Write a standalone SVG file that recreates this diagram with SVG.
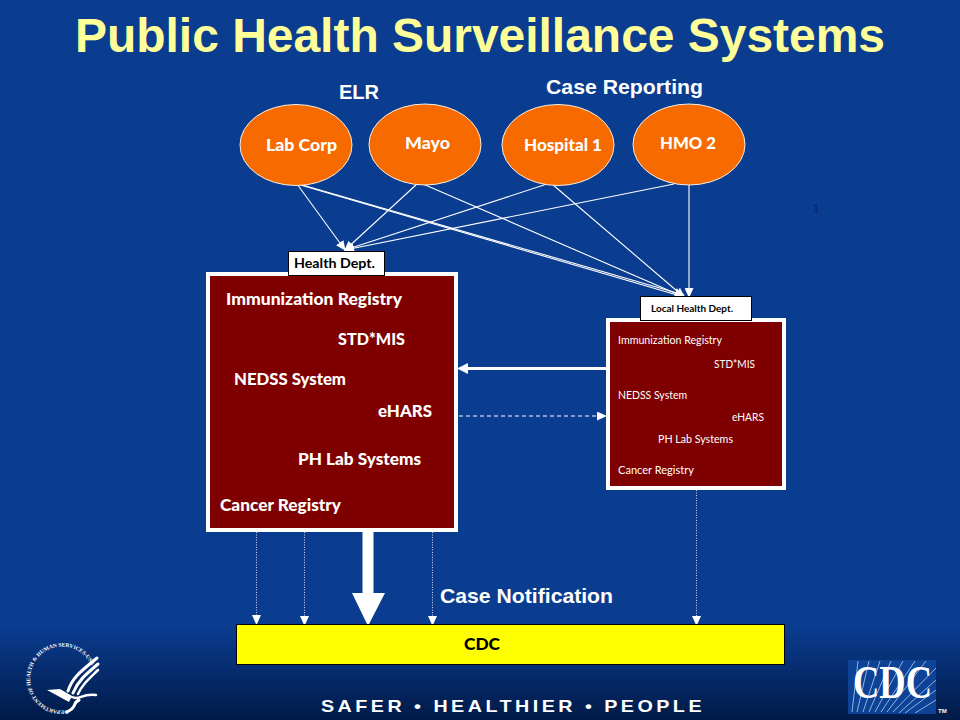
<svg xmlns="http://www.w3.org/2000/svg" width="960" height="720" viewBox="0 0 960 720">
<style>
.h{font-family:"Liberation Sans",Arial,sans-serif;font-weight:700;fill:#fff}
.l{font-family:Lato,"Noto Sans",sans-serif;font-weight:900;fill:#fff;font-size:16px}
.s{font-family:Lato,"Noto Sans",sans-serif;font-weight:400;fill:#fff;font-size:10.5px}
.k{font-family:Lato,"Noto Sans",sans-serif;font-weight:700;fill:#000}
.e{fill:#f66a00;stroke:#f4efe6;stroke-width:1}
.c{stroke:#fff;stroke-width:1.100;fill:none}
.d{stroke:#c6d4ee;stroke-width:1;stroke-dasharray:1 1.500;fill:none}
.p{fill:#7f0000;stroke:#fff;stroke-width:4}
.t{fill:#fff;stroke:#000;stroke-width:1}
.r{stroke:#8fb2dc;stroke-width:1;fill:none}
.w{stroke:#fff;fill:none;stroke-linecap:round}
</style>
<defs>
<linearGradient id="bg" x1="0" y1="0" x2="0" y2="1"><stop offset="0" stop-color="#0a3c90"/><stop offset=".87" stop-color="#0a3c90"/><stop offset="1" stop-color="#011a48"/></linearGradient>
<marker id="a" markerWidth="10" markerHeight="9" refX="9" refY="4.500" orient="auto" markerUnits="userSpaceOnUse"><path d="M0 0L10 4.500L0 9z" fill="#fff"/></marker>
<path id="ring" d="M68 710A32 32 0 1 1 92 667"/>
</defs>
<rect width="960" height="720" fill="url(#bg)"/>
<text x="480" y="51.500" text-anchor="middle" class="h" font-size="48" style="fill:#ffff99" textLength="810" lengthAdjust="spacingAndGlyphs">Public Health Surveillance Systems</text>
<text x="359" y="99" text-anchor="middle" class="h" font-size="20">ELR</text>
<text x="624.500" y="94" text-anchor="middle" class="h" font-size="21" textLength="157" lengthAdjust="spacingAndGlyphs">Case Reporting</text>
<text x="816" y="212" text-anchor="middle" font-family="Liberation Sans,sans-serif" font-size="10" fill="#0a1f55">1</text>

<g id="connectors">
<path class="c" marker-end="url(#a)" d="M297 184L345 250"/>
<path class="c" marker-end="url(#a)" d="M417 184L345 250"/>
<path class="c" marker-end="url(#a)" d="M547 184L345 250"/>
<path class="c" marker-end="url(#a)" d="M674 184L345 250"/>
<path class="c" marker-end="url(#a)" d="M297 184L684 297"/>
<path class="c" marker-end="url(#a)" d="M299 184L684 295"/>
<path class="c" marker-end="url(#a)" d="M423 184L684 297"/>
<path class="c" marker-end="url(#a)" d="M552 184L684 297"/>
<path class="c" marker-end="url(#a)" d="M689 185L689 297"/>
<path d="M606 368.500H466" stroke="#fff" stroke-width="3"/>
<path d="M468 363L457 368.500L468 374z" fill="#fff"/>
<path d="M459 416H606" stroke="#fff" stroke-width="1" stroke-dasharray="4 3" marker-end="url(#a)" fill="none"/>
<path class="d" marker-end="url(#a)" d="M256.500 532V624"/>
<path class="d" marker-end="url(#a)" d="M304.500 532V625"/>
<path class="d" marker-end="url(#a)" d="M432.500 532V625"/>
<path class="d" marker-end="url(#a)" d="M696.500 490V625"/>
<path d="M362.500 532H373.500V593H385L368 626L352 593H362.500z" fill="#fff"/>
</g>

<g id="lab-corp"><ellipse class="e" cx="296" cy="145" rx="56" ry="40.500"/><text class="l" x="266" y="151" textLength="71" lengthAdjust="spacingAndGlyphs">Lab Corp</text></g>
<g id="mayo"><ellipse class="e" cx="425" cy="144.500" rx="56" ry="40.500"/><text class="l" x="405" y="149" textLength="45" lengthAdjust="spacingAndGlyphs">Mayo</text></g>
<g id="hospital-1"><ellipse class="e" cx="558" cy="145" rx="56" ry="40.500"/><text class="l" x="524" y="151" textLength="78" lengthAdjust="spacingAndGlyphs">Hospital 1</text></g>
<g id="hmo-2"><ellipse class="e" cx="689" cy="144.500" rx="56" ry="40.500"/><text class="l" x="660" y="149" textLength="56" lengthAdjust="spacingAndGlyphs">HMO 2</text></g>

<g id="state-panel"><rect class="p" x="208" y="274" width="248" height="256"/>
<text class="l" x="226" y="305" textLength="176" lengthAdjust="spacingAndGlyphs">Immunization Registry</text>
<text class="l" x="338" y="345" textLength="67" lengthAdjust="spacingAndGlyphs">STD*MIS</text>
<text class="l" x="234" y="385" textLength="112" lengthAdjust="spacingAndGlyphs">NEDSS System</text>
<text class="l" x="378" y="417" textLength="54" lengthAdjust="spacingAndGlyphs">eHARS</text>
<text class="l" x="298" y="465" textLength="123" lengthAdjust="spacingAndGlyphs">PH Lab Systems</text>
<text class="l" x="220" y="511" textLength="121" lengthAdjust="spacingAndGlyphs">Cancer Registry</text></g>
<g id="health-dept"><rect class="t" x="288.500" y="251.500" width="96" height="24"/><text class="k" x="294" y="268" font-size="12.500" textLength="81" lengthAdjust="spacingAndGlyphs">Health Dept.</text></g>

<g id="local-panel"><rect class="p" x="608" y="320" width="176" height="168"/>
<text class="s" x="618" y="344" textLength="104" lengthAdjust="spacingAndGlyphs">Immunization Registry</text>
<text class="s" x="714" y="368" textLength="41" lengthAdjust="spacingAndGlyphs">STD*MIS</text>
<text class="s" x="618" y="399" textLength="69" lengthAdjust="spacingAndGlyphs">NEDSS System</text>
<text class="s" x="732" y="421" textLength="32" lengthAdjust="spacingAndGlyphs">eHARS</text>
<text class="s" x="658" y="443" textLength="75" lengthAdjust="spacingAndGlyphs">PH Lab Systems</text>
<text class="s" x="618" y="474" textLength="76" lengthAdjust="spacingAndGlyphs">Cancer Registry</text></g>
<g id="local-health-dept"><rect class="t" x="640.500" y="296.500" width="111" height="24"/><text class="k" x="651" y="312" font-size="9.500" textLength="82" lengthAdjust="spacingAndGlyphs">Local Health Dept.</text></g>

<text class="h" x="440" y="603" font-size="21" textLength="173" lengthAdjust="spacingAndGlyphs">Case Notification</text>
<g id="cdc"><rect x="236.500" y="624.500" width="548" height="40" fill="#ff0" stroke="#000" stroke-width="1"/><text x="464" y="650" font-family="Lato,sans-serif" font-weight="900" font-size="16" textLength="36" lengthAdjust="spacingAndGlyphs" fill="#000">CDC</text></g>

<g id="footer">
<text x="321" y="712" font-family="Liberation Sans,sans-serif" font-weight="700" font-size="17" letter-spacing="3" textLength="384" lengthAdjust="spacingAndGlyphs" fill="#fff">SAFER • HEALTHIER • PEOPLE</text>
<text font-family="Liberation Serif,serif" font-weight="700" font-size="5.500" fill="#fff"><textPath href="#ring" textLength="143" lengthAdjust="spacing">DEPARTMENT OF HEALTH &amp; HUMAN SERVICES-USA</textPath></text>
<path d="M47 690L60 689L72 696L69 702z" fill="#fff"/>
<path class="w" stroke-width="3" d="M68 691C72 678 80 672 97 658"/>
<path class="w" stroke-width="3" d="M73 693C78 681 85 675 98 664"/>
<path class="w" stroke-width="2.500" d="M78 694C82 685 88 680 98 670"/>
<path class="w" stroke-width="2.500" d="M72 697C80 701 81 693 96 695"/>
<path class="w" stroke-width="3" d="M79 700C72 703 78 707 67 712"/>
<rect x="848" y="660" width="88" height="54" fill="#0d4296"/>
<path class="r" d="M858 661L852 712M869 661L857 712M880 661L863 712M891 661L869 712M903 661L875 712M915 661L881 712M926 661L887 712M936 668L893 712M936 680L899 713M936 690L905 713M936 700L915 713"/>
<text x="853" y="698" font-family="Liberation Serif,serif" font-weight="700" font-size="46" textLength="79" lengthAdjust="spacingAndGlyphs" fill="#fff">CDC</text>
<text x="938" y="713" font-family="Liberation Sans,sans-serif" font-weight="700" font-size="6" fill="#fff">TM</text>
</g>
</svg>
